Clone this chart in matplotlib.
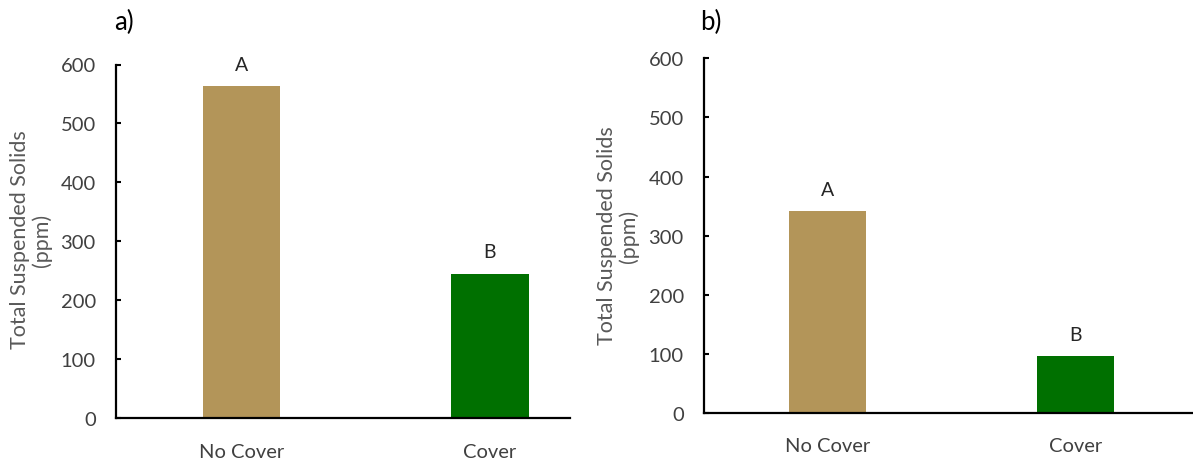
import matplotlib
matplotlib.use("Agg")
import matplotlib.pyplot as plt

plt.rcParams['font.family'] = ['Lato', 'DejaVu Sans']

categories = ["No Cover", "Cover"]
values_a = [563, 245]
values_b = [341, 96]
letters_a = ["A", "B"]
letters_b = ["A", "B"]
panel_labels = ["a)", "b)"]
yticks = [0, 100, 200, 300, 400, 500, 600]
ylabel = "Total Suspended Solids\n(ppm)"
colors = ["#B39559", "#007000"]

W, H = 1193, 464
fig = plt.figure(figsize=(W / 100, H / 100), dpi=100)


def px_axes(l, r, t, b):
    return fig.add_axes([l / W, 1 - b / H, (r - l) / W, (b - t) / H])


ax_a = px_axes(116, 570, 65.5, 419.3)
ax_b = px_axes(704, 1193, 59.3, 414)

FS = 14.5
for ax, vals, lets, xlim in [(ax_a, values_a, letters_a, (-0.505, 1.322)),
                             (ax_b, values_b, letters_b, (-0.497, 1.471))]:
    x = list(range(len(categories)))
    ax.bar(x, vals, width=0.31, color=colors)
    for xi, v, lt in zip(x, vals, lets):
        ax.annotate(lt, (xi, v), xytext=(0, 16), textcoords="offset points",
                    ha="center", va="center", fontsize=14, color="#262626")
    ax.set_xlim(*xlim)
    ax.set_ylim(0, 600)
    ax.set_yticks(yticks)
    ax.set_xticks(x)
    ax.set_xticklabels(categories)
    for s in ["top", "right"]:
        ax.spines[s].set_visible(False)
    for s in ["left", "bottom"]:
        ax.spines[s].set_linewidth(1.6)
        ax.spines[s].set_color("black")
    ax.tick_params(axis="y", direction="in", length=3.6, width=1.5,
                   labelsize=FS, labelcolor="#404040", pad=14.5)
    ax.tick_params(axis="x", length=0, labelsize=FS, labelcolor="#404040", pad=17.5)

fig.text(31 / W, 1 - 240 / H, ylabel, rotation=90, ha="center", va="center",
         ma="center", fontsize=15.5, color="#595959", linespacing=1.1)
fig.text(618 / W, 1 - 236 / H, ylabel, rotation=90, ha="center", va="center",
         ma="center", fontsize=15.5, color="#595959", linespacing=1.1)

fig.text(114 / W, 1 - 22 / H, panel_labels[0], ha="left", va="center", fontsize=18.5, color="black")
fig.text(700 / W, 1 - 22 / H, panel_labels[1], ha="left", va="center", fontsize=18.5, color="black")

fig.savefig("out.png", dpi=100)
